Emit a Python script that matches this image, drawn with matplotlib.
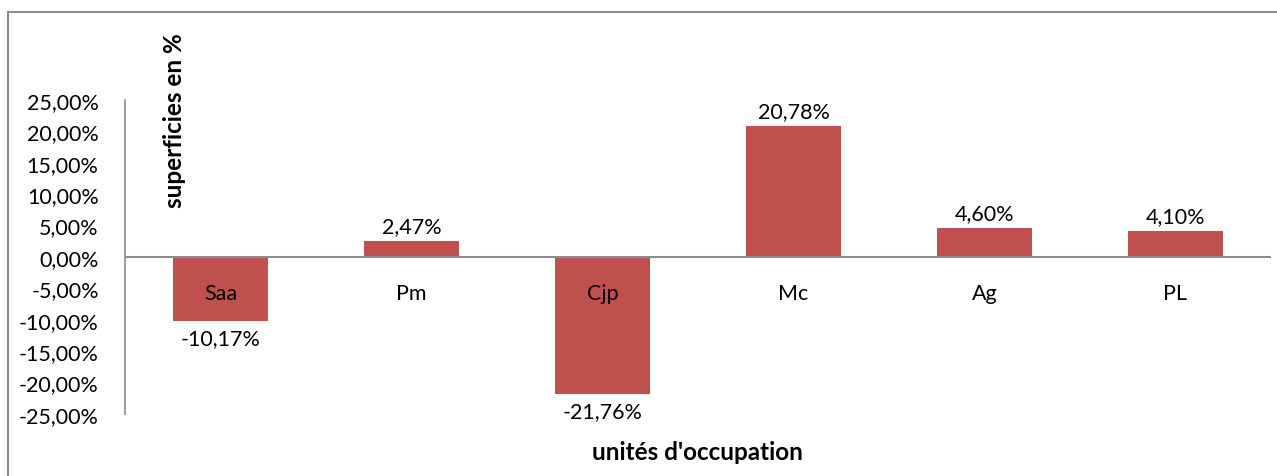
import matplotlib.pyplot as plt
import numpy as np
from matplotlib.patches import Rectangle

plt.rcParams['font.family'] = ['Lato', 'DejaVu Sans']

categories = ['Saa', 'Pm', 'Cjp', 'Mc', 'Ag', 'PL']
values = [-10.17, 2.47, -21.76, 20.78, 4.60, 4.10]
yticks = [-25, -20, -15, -10, -5, 0, 5, 10, 15, 20, 25]

bar_color = '#C0504D'
axis_gray = '#8C8C8C'
fs = 15.5

fig = plt.figure(figsize=(12.77, 4.77), dpi=100)
ax = fig.add_axes([0.0979, 0.130, 0.8974, 0.6583])

x = np.arange(len(categories))
ax.bar(x, values, width=0.5, color=bar_color, zorder=2)

ax.set_xlim(-0.5, len(categories) - 0.5)
ax.set_ylim(-25, 25)
ax.set_yticks(yticks)
ax.set_yticklabels([('%.2f%%' % v).replace('.', ',') for v in yticks], fontsize=fs)
ax.tick_params(axis='y', length=0, pad=19)
ax.set_xticks([])

for s in ['top', 'right', 'bottom']:
    ax.spines[s].set_visible(False)
ax.spines['left'].set_color(axis_gray)
ax.spines['left'].set_linewidth(1.2)
ax.axhline(0, color=axis_gray, lw=1.5, zorder=3)

# category names just below the zero line
for xi, c in zip(x, categories):
    ax.text(xi, -5.7, c, ha='center', va='center', fontsize=fs, zorder=4)

# value labels
for xi, v in zip(x, values):
    lab = ('%.2f%%' % v).replace('.', ',')
    if v >= 0:
        ax.text(xi, v + 2.4, lab, ha='center', va='center', fontsize=fs)
    else:
        ax.text(xi, v - 2.7, lab, ha='center', va='center', fontsize=fs)

fig.text(175 / 1277, 1 - 121 / 477, 'superficies en %', rotation=90,
         ha='center', va='center', fontsize=17.5, fontweight='bold')
fig.text(697 / 1277, 1 - 453 / 477, "unités d'occupation",
         ha='center', va='center', fontsize=17.5, fontweight='bold')

# outer chart frame
fig.patches.append(Rectangle((8 / 1277, -0.1), 1.2, 1 - 13 / 477 + 0.1,
                             transform=fig.transFigure, fill=False,
                             edgecolor='#8C8C8C', lw=1.5))

fig.savefig('out.png', dpi=100)
